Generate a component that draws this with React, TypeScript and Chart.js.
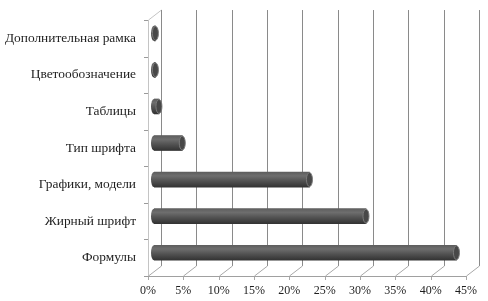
import React, { useEffect, useRef } from "react";
import { Chart, registerables } from "chart.js";

Chart.register(...registerables);

const categories = [
  "Дополнительная рамка",
  "Цветообозначение",
  "Таблицы",
  "Тип шрифта",
  "Графики, модели",
  "Жирный шрифт",
  "Формулы",
];
const values = [0.2, 0.2, 0.7, 4, 22, 30, 42.8];
const tickStep = 5;
const axisMax = 45;

const DX = 13;
const DY = 10;
const SHIFT_X = 6;
const SHIFT_Y = -5;
const CAP_RX = 3;
const BAR_H = 15;
const FONT_FAMILY = "'Liberation Serif', 'Times New Roman', serif";

function makeGrad(ctx: CanvasRenderingContext2D, y: number, h: number): any {
  if (!isFinite(y) || !isFinite(h)) return "#555555";
  const g = ctx.createLinearGradient(0, y - h / 2, 0, y + h / 2);
  g.addColorStop(0, "#5e5e5e");
  g.addColorStop(0.25, "#6e6e6e");
  g.addColorStop(0.55, "#555555");
  g.addColorStop(1, "#333333");
  return g;
}

const framePlugin = {
  id: "frame3d",
  beforeDatasetsDraw(chart: any) {
    const { ctx, chartArea, scales } = chart;
    const xs = scales.x;
    const { top, bottom, left } = chartArea;
    ctx.save();
    ctx.lineWidth = 1;
    ctx.strokeStyle = "#c4c4c4";
    ctx.beginPath();
    ctx.moveTo(left + 0.5, top);
    ctx.lineTo(left + 0.5, bottom);
    ctx.moveTo(left + 0.5, top);
    ctx.lineTo(left + DX + 0.5, top - DY);
    ctx.stroke();
    ctx.strokeStyle = "#9a9a9a";
    const n = categories.length;
    ctx.beginPath();
    for (let k = 0; k <= n; k++) {
      const yy = Math.round(top + ((bottom - top) * k) / n) + 0.5;
      ctx.moveTo(left - 4, yy);
      ctx.lineTo(left, yy);
    }
    ctx.stroke();
    for (let v = 0; v <= axisMax; v += tickStep) {
      const fx = Math.round(xs.getPixelForValue(v)) + 0.5;
      const bx = fx + DX;
      ctx.strokeStyle = "#8a8a8a";
      ctx.beginPath();
      ctx.moveTo(bx, top - DY);
      ctx.lineTo(bx, bottom - DY);
      ctx.stroke();
      ctx.strokeStyle = "#a8a8a8";
      ctx.beginPath();
      ctx.moveTo(bx, bottom - DY);
      ctx.lineTo(fx, bottom);
      ctx.moveTo(fx, bottom);
      ctx.lineTo(fx, bottom + 4);
      ctx.stroke();
    }
    ctx.strokeStyle = "#a0a0a0";
    ctx.beginPath();
    ctx.moveTo(left, Math.round(bottom) + 0.5);
    ctx.lineTo(xs.getPixelForValue(axisMax) + 0.5, Math.round(bottom) + 0.5);
    ctx.stroke();
    ctx.restore();

    ctx.save();
    ctx.translate(SHIFT_X, SHIFT_Y);
    const meta = chart.getDatasetMeta(0);
    meta.data.forEach((el: any) => {
      const h = el.height || BAR_H;
      if (!isFinite(el.base) || !isFinite(el.y)) return;
      ctx.fillStyle = makeGrad(ctx, el.y, h);
      ctx.beginPath();
      ctx.ellipse(el.base, el.y, CAP_RX, h / 2, 0, Math.PI / 2, (Math.PI * 3) / 2);
      ctx.fill();
    });
  },
  afterDatasetsDraw(chart: any) {
    const { ctx } = chart;
    const meta = chart.getDatasetMeta(0);
    meta.data.forEach((el: any) => {
      const h = el.height || BAR_H;
      if (!isFinite(el.x) || !isFinite(el.y)) return;
      ctx.fillStyle = "#484848";
      ctx.strokeStyle = "#7a7a7a";
      ctx.lineWidth = 1;
      ctx.beginPath();
      ctx.ellipse(el.x, el.y, CAP_RX, h / 2 - 0.5, 0, 0, Math.PI * 2);
      ctx.fill();
      ctx.stroke();
    });
    ctx.restore();
  },
};

export default function App() {
  const ref = useRef<HTMLCanvasElement | null>(null);
  useEffect(() => {
    document.body.style.margin = "0";
    if (!ref.current) return;
    const chart = new Chart(ref.current, {
      type: "bar",
      data: {
        labels: categories,
        datasets: [
          {
            data: values,
            barThickness: BAR_H,
            borderWidth: 0,
            backgroundColor: (c: any) => {
              const ch = c.chart;
              const ys = ch.scales && ch.scales.y;
              if (!ys || c.dataIndex === undefined) return "#555555";
              const y = ys.getPixelForValue(c.dataIndex);
              return makeGrad(ch.ctx, y, BAR_H);
            },
          },
        ],
      },
      plugins: [framePlugin],
      options: {
        indexAxis: "y",
        responsive: false,
        animation: false,
        events: [],
        font: { family: FONT_FAMILY },
        layout: { padding: { top: 18, right: 22, left: 0, bottom: 0 } },
        plugins: { legend: { display: false }, tooltip: { enabled: false } },
        scales: {
          x: {
            type: "linear",
            min: 0,
            max: axisMax,
            afterFit: (s: any) => {
              s.height = 25;
            },
            grid: { display: false, drawTicks: false },
            border: { display: false },
            ticks: {
              stepSize: tickStep,
              padding: 8,
              color: "#1e1e1e",
              font: { family: FONT_FAMILY, size: 12 },
              callback: (v: any) => v + "%",
            },
          },
          y: {
            type: "category",
            afterFit: (s: any) => {
              s.width = 148;
            },
            grid: { display: false, drawTicks: false },
            border: { display: false },
            ticks: {
              padding: 12,
              color: "#1e1e1e",
              font: { family: FONT_FAMILY, size: 13.4 },
            },
          },
        },
      },
    } as any);
    return () => chart.destroy();
  }, []);
  return (
    <div style={{ width: 488, height: 301 }}>
      <canvas ref={ref} width={488} height={301} />
    </div>
  );
}
